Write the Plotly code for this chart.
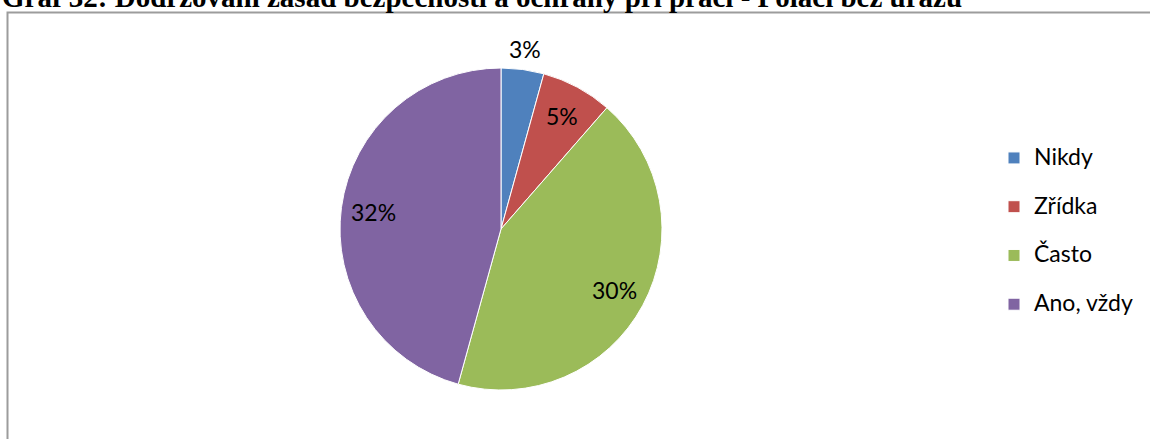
import math
import plotly.graph_objects as go

# Survey answers and their shares (percent of respondents)
categories = ["Nikdy", "Zřídka", "Často", "Ano, vždy"]
shares = [3, 5, 30, 32]
colors = ["#4F81BD", "#C0504D", "#9BBB59", "#8064A2"]

title_text = "Graf 32: Dodržování zásad bezpečnosti a ochrany při práci - Poláci bez úrazu"

W, H = 1150, 439
FONT = "Lato"

# pie box in pixels (left, right, top, bottom)
PIE_L, PIE_R, PIE_T, PIE_B = 340, 662, 68, 390
dom_x = [PIE_L / W, PIE_R / W]
dom_y = [1 - PIE_B / H, 1 - PIE_T / H]

# legend entries: a larger visible line plus a blank line for roomier spacing
legend_labels = [f"<span style='font-size:23px'>{c}</span><br>\u00a0" for c in categories]

fig = go.Figure(
    go.Pie(
        labels=legend_labels,
        values=shares,
        sort=False,
        direction="clockwise",
        rotation=0,
        marker=dict(colors=colors, line=dict(color="white", width=1)),
        textinfo="none",
        domain=dict(x=dom_x, y=dom_y),
        hoverinfo="none",
    )
)

# value labels placed along each slice's bisector; thin slices get theirs outside
cx = (dom_x[0] + dom_x[1]) / 2
cy = (dom_y[0] + dom_y[1]) / 2
rx = (dom_x[1] - dom_x[0]) / 2
ry = (dom_y[1] - dom_y[0]) / 2
total = sum(shares)
annotations = []
start = 0.0
for v in shares:
    frac = v / total
    mid = (start + frac / 2) * 2 * math.pi
    start += frac
    r = 1.13 if frac < 0.05 else 0.8
    annotations.append(
        dict(
            text=f"{v}%",
            xref="paper",
            yref="paper",
            x=cx + r * rx * math.sin(mid),
            y=cy + r * ry * math.cos(mid),
            xanchor="center",
            yanchor="middle",
            showarrow=False,
            font=dict(family=FONT, size=23, color="black"),
        )
    )

annotations.append(
    dict(
        text=f"<b>{title_text}</b>",
        xref="paper",
        yref="paper",
        x=0,
        y=1,
        xanchor="left",
        yanchor="bottom",
        yshift=-15,
        showarrow=False,
        font=dict(family="Liberation Serif", size=29, color="black"),
    )
)

fig.update_layout(
    width=W,
    height=H,
    margin=dict(l=0, r=0, t=0, b=0),
    paper_bgcolor="white",
    plot_bgcolor="white",
    showlegend=True,
    legend=dict(
        x=994 / W,
        y=1 - 140 / H,
        xanchor="left",
        yanchor="top",
        valign="top",
        font=dict(family=FONT, size=17.6, color="black"),
        bgcolor="rgba(0,0,0,0)",
    ),
    shapes=[
        dict(
            type="rect",
            xref="paper",
            yref="paper",
            x0=7.5 / W,
            x1=1.02,
            y0=-0.02,
            y1=1 - 12.5 / H,
            line=dict(color="#9C9C9C", width=2),
            fillcolor="rgba(0,0,0,0)",
            layer="below",
        )
    ],
    annotations=annotations,
)

fig.write_html("out.html")
